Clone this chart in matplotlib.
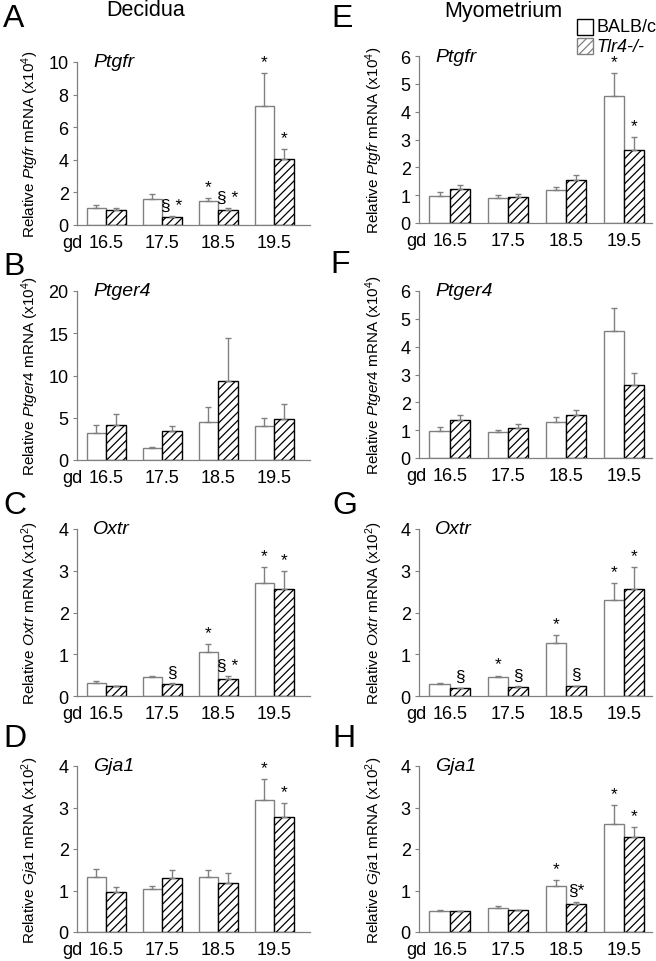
import matplotlib
matplotlib.use("Agg")
import matplotlib.pyplot as plt
from matplotlib.patches import Rectangle
import numpy as np

plt.rcParams['font.family'] = ['Liberation Sans', 'DejaVu Sans']
plt.rcParams['mathtext.fontset'] = 'custom'
plt.rcParams['mathtext.rm'] = 'Liberation Sans'
plt.rcParams['mathtext.it'] = 'Liberation Sans:italic'
plt.rcParams['hatch.linewidth'] = 0.9

# ---------------- data ----------------
categories = ["16.5", "17.5", "18.5", "19.5"]
strains = ["BALB/c", "Tlr4-/-"]

# Decidua
A_gene = "Ptgfr"
A_wt = [1.05, 1.60, 1.48, 7.30]
A_wt_err = [0.17, 0.29, 0.16, 2.05]
A_ko = [0.94, 0.47, 0.92, 4.04]
A_ko_err = [0.08, 0.06, 0.10, 0.61]
A_wt_sig = ["", "", "*", "*"]
A_ko_sig = ["", "§ *", "§ *", "*"]

B_gene = "Ptger4"
B_wt = [3.19, 1.46, 4.53, 3.98]
B_wt_err = [0.98, 0.08, 1.69, 0.94]
B_ko = [4.17, 3.39, 9.37, 4.84]
B_ko_err = [1.26, 0.67, 5.04, 1.77]
B_wt_sig = ["", "", "", ""]
B_ko_sig = ["", "", "", ""]

C_gene = "Oxtr"
C_wt = [0.31, 0.45, 1.05, 2.71]
C_wt_err = [0.06, 0.02, 0.19, 0.37]
C_ko = [0.24, 0.28, 0.41, 2.56]
C_ko_err = [0.01, 0.02, 0.06, 0.43]
C_wt_sig = ["", "", "*", "*"]
C_ko_sig = ["", "§", "§ *", "*"]

D_gene = "Gja1"
D_wt = [1.33, 1.04, 1.33, 3.18]
D_wt_err = [0.18, 0.06, 0.17, 0.50]
D_ko = [0.96, 1.29, 1.19, 2.76]
D_ko_err = [0.13, 0.21, 0.24, 0.34]
D_wt_sig = ["", "", "", "*"]
D_ko_sig = ["", "", "", "*"]

# Myometrium
E_gene = "Ptgfr"
E_wt = [0.97, 0.91, 1.17, 4.57]
E_wt_err = [0.14, 0.11, 0.12, 0.83]
E_ko = [1.21, 0.93, 1.56, 2.63]
E_ko_err = [0.14, 0.11, 0.15, 0.46]
E_wt_sig = ["", "", "", "*"]
E_ko_sig = ["", "", "", "*"]

F_gene = "Ptger4"
F_wt = [0.98, 0.93, 1.30, 4.57]
F_wt_err = [0.12, 0.08, 0.16, 0.82]
F_ko = [1.36, 1.06, 1.56, 2.64]
F_ko_err = [0.17, 0.16, 0.16, 0.42]
F_wt_sig = ["", "", "", ""]
F_ko_sig = ["", "", "", ""]

G_gene = "Oxtr"
G_wt = [0.29, 0.45, 1.27, 2.31]
G_wt_err = [0.03, 0.04, 0.19, 0.39]
G_ko = [0.19, 0.22, 0.23, 2.57]
G_ko_err = [0.01, 0.01, 0.02, 0.51]
G_wt_sig = ["", "*", "*", "*"]
G_ko_sig = ["§", "§", "§", "*"]

H_gene = "Gja1"
H_wt = [0.50, 0.57, 1.12, 2.61]
H_wt_err = [0.03, 0.05, 0.14, 0.45]
H_ko = [0.50, 0.53, 0.67, 2.29]
H_ko_err = [0.01, 0.01, 0.05, 0.25]
H_wt_sig = ["", "", "*", "*"]
H_ko_sig = ["", "", "§*", "*"]

A_ylim, A_yticks, A_exp = 10, [0, 2, 4, 6, 8, 10], 4
B_ylim, B_yticks, B_exp = 20, [0, 5, 10, 15, 20], 4
C_ylim, C_yticks, C_exp = 4, [0, 1, 2, 3, 4], 2
D_ylim, D_yticks, D_exp = 4, [0, 1, 2, 3, 4], 2
E_ylim, E_yticks, E_exp = 6, [0, 1, 2, 3, 4, 5, 6], 4
F_ylim, F_yticks, F_exp = 6, [0, 1, 2, 3, 4, 5, 6], 4
G_ylim, G_yticks, G_exp = 4, [0, 1, 2, 3, 4], 2
H_ylim, H_yticks, H_exp = 4, [0, 1, 2, 3, 4], 2

# ---------------- figure ----------------
W, H = 656, 962
fig = plt.figure(figsize=(W / 100, H / 100), dpi=100)

def fr(left, top, right, bottom):
    return [left / W, 1 - bottom / H, (right - left) / W, (bottom - top) / H]

GRAY = '#808080'
panels = [
    ("A", A_gene, A_wt, A_wt_err, A_ko, A_ko_err, A_wt_sig, A_ko_sig, A_ylim, A_yticks, A_exp, fr(77, 63, 310, 226), 0),
    ("B", B_gene, B_wt, B_wt_err, B_ko, B_ko_err, B_wt_sig, B_ko_sig, B_ylim, B_yticks, B_exp, fr(77, 292, 310, 461), 0),
    ("C", C_gene, C_wt, C_wt_err, C_ko, C_ko_err, C_wt_sig, C_ko_sig, C_ylim, C_yticks, C_exp, fr(77, 530, 310, 697), 0),
    ("D", D_gene, D_wt, D_wt_err, D_ko, D_ko_err, D_wt_sig, D_ko_sig, D_ylim, D_yticks, D_exp, fr(77, 767, 310, 933), 0),
    ("E", E_gene, E_wt, E_wt_err, E_ko, E_ko_err, E_wt_sig, E_ko_sig, E_ylim, E_yticks, E_exp, fr(419, 57, 652, 224), 1),
    ("F", F_gene, F_wt, F_wt_err, F_ko, F_ko_err, F_wt_sig, F_ko_sig, F_ylim, F_yticks, F_exp, fr(419, 292, 652, 459), 1),
    ("G", G_gene, G_wt, G_wt_err, G_ko, G_ko_err, G_wt_sig, G_ko_sig, G_ylim, G_yticks, G_exp, fr(419, 530, 652, 697), 1),
    ("H", H_gene, H_wt, H_wt_err, H_ko, H_ko_err, H_wt_sig, H_ko_sig, H_ylim, H_yticks, H_exp, fr(419, 767, 652, 933), 1),
]

letter_pos = {"A": (3, 4), "B": (3, 252), "C": (3, 491), "D": (3, 724),
              "E": (331, 4), "F": (330, 250), "G": (332, 491), "H": (332, 724)}

bw = 0.35
for (letter, gene, wt, wte, ko, koe, wsig, ksig, ylim, yticks, exp, rect, col) in panels:
    ax = fig.add_axes(rect)
    x = np.arange(len(categories))
    ax.bar(x - bw / 2, wt, bw, color='white', edgecolor=GRAY, linewidth=1.0,
           yerr=[np.zeros(len(wt)), wte], error_kw=dict(ecolor=GRAY, elinewidth=1.0, capsize=2.5, capthick=1.0))
    ax.bar(x + bw / 2, ko, bw, color='white', edgecolor='black', hatch='////', linewidth=1.0,
           yerr=[np.zeros(len(ko)), koe], error_kw=dict(ecolor=GRAY, elinewidth=1.0, capsize=2.5, capthick=1.0))
    for i in range(len(categories)):
        if wsig[i]:
            ax.annotate(wsig[i], (x[i] - bw / 2, wt[i] + wte[i]), xytext=(0, 5),
                        textcoords='offset points', ha='center', va='baseline', fontsize=12.5)
        if ksig[i]:
            ax.annotate(ksig[i], (x[i] + bw / 2, ko[i] + koe[i]), xytext=(0, 5),
                        textcoords='offset points', ha='center', va='baseline', fontsize=12.5)
    if col == 0:
        ax.set_xlim(-0.52, 3.64)
    else:
        ax.set_xlim(-0.53, 3.48)
    ax.set_ylim(0, ylim)
    ax.set_yticks(yticks)
    ax.set_xticks(x)
    ax.set_xticklabels(categories)
    ax.tick_params(axis='x', length=0, pad=6.5, labelsize=13)
    ax.tick_params(axis='y', length=3, width=0.8, color=GRAY, pad=3, labelsize=13)
    for s in ['top', 'right']:
        ax.spines[s].set_visible(False)
    for s in ['left', 'bottom']:
        ax.spines[s].set_color(GRAY)
        ax.spines[s].set_linewidth(0.9)
    ax.set_ylabel("Relative $\\it{" + gene + "}$ mRNA (x10$^{" + str(exp) + "}$)", fontsize=11)
    ax.yaxis.set_label_coords(-0.155 if col == 0 else -0.145, 0.5)
    ax.text(0.07, 1.0, gene, transform=ax.transAxes, fontsize=14, style='italic',
            ha='left', va='center')
    ax.annotate("gd", (0, 0), xycoords=('data', 'axes fraction'), xytext=(-17, -6.5),
                textcoords='offset points', ha='right', va='top', fontsize=13)
    lx, ly = letter_pos[letter]
    fig.text(lx / W, 1 - ly / H, letter, fontsize=23, ha='left', va='top')

fig.text(146 / W, 1 - 11 / H, "Decidua", fontsize=15.5, ha='center', va='center')
fig.text(503 / W, 1 - 11 / H, "Myometrium", fontsize=15.5, ha='center', va='center')

# legend
fig.add_artist(Rectangle((577 / W, 1 - 36 / H), 16 / W, 16 / H, transform=fig.transFigure,
                         facecolor='white', edgecolor='black', linewidth=1.0))
fig.add_artist(Rectangle((577 / W, 1 - 55 / H), 16 / W, 16 / H, transform=fig.transFigure,
                         facecolor='white', edgecolor=GRAY, hatch='////', linewidth=1.0))
fig.text(596 / W, 1 - 28 / H, strains[0], fontsize=13, ha='left', va='center')
fig.text(596 / W, 1 - 47 / H, strains[1], fontsize=13, ha='left', va='center', style='italic')

fig.savefig("out.png", dpi=100)
